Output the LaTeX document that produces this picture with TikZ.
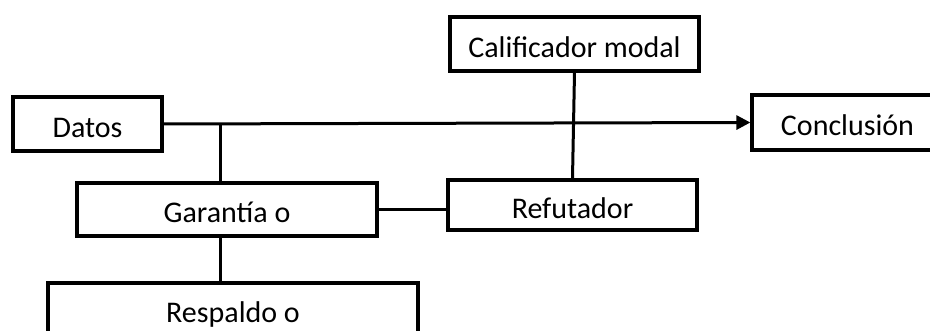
\documentclass[tikz,border=0pt]{standalone}
\usepackage{fontspec}
\setmainfont{Carlito}
\usetikzlibrary{arrows.meta, positioning, calc}

\begin{document}
\begin{tikzpicture}[
  x=1pt, y=-1pt,
  every node/.style={font=\fontsize{30}{32}\selectfont},
  elem/.style={rectangle, draw=black, line width=3.2pt, fill=white,
               minimum height=#1, text height=27pt, text depth=0pt,
               inner sep=0pt},
  elem/.default=53pt,
  lnk/.style={line width=3pt, black},
  arr/.style={-{Triangle[length=14pt, width=14pt]}, line width=3pt, black}
]
\useasboundingbox (0,0) rectangle (930,331);
\clip (0,0) rectangle (930,331);

\node[elem=54pt, minimum width=149pt] (datos)   at (87.5,124)  {Datos};
\node[elem=55pt, minimum width=191pt] (concl)   at (847.5,122.5) {Conclusión};
\node[elem=54pt, minimum width=249pt] (calif)   at (574.5,44)  {Calificador modal};
\node[elem=50pt, minimum width=249pt] (refut)   at (572.5,205) {Refutador};
\node[elem=53pt, minimum width=300pt] (garant)  at (227,209.5) {Garantía o};
\node[elem=53pt, minimum width=370pt] (respal)  at (233,309.5) {Respaldo o};

\coordinate (junc) at (220,125.5);

\draw[arr] (datos.east) -- (concl.west);
\draw[lnk] (junc) -- (junc |- garant.north);
\draw[lnk] (junc |- garant.south) -- (junc |- respal.north);
\draw[lnk] (calif.south) -- (refut.north);
\draw[lnk] (garant.east) -- (garant.east -| refut.west);
\end{tikzpicture}
\end{document}
